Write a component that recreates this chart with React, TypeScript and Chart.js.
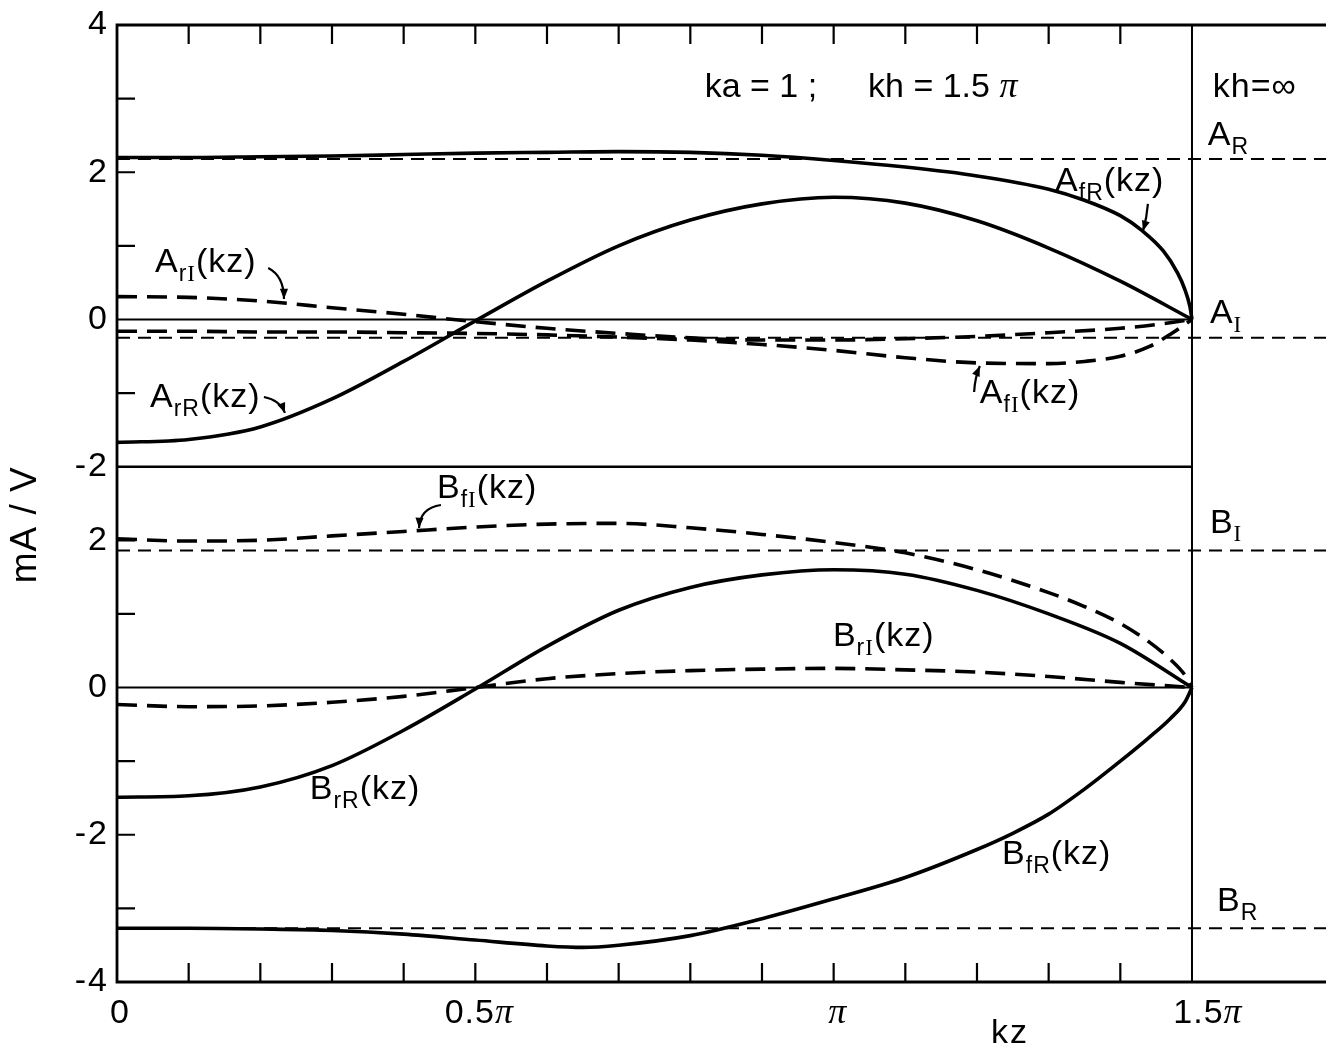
import React, { useEffect, useRef } from "react";
import { Chart, registerables } from "chart.js";

Chart.register(...registerables);

// kz is measured in units of π; the right strip (kz > 1.5π) shows the kh = ∞ limits.
const X_MAX = 1.687;
const X_NODE = 1.5;
// One vertical axis holds both panels: the lower (B) panel is shifted down by 5 units.
const Y_TOP = 4;
const Y_BOTTOM = -9;
const LOWER_SHIFT = -5;

// ---- upper panel: A coefficients (mA/V) ----
const aR = 2.18;
const aI = -0.25;

const afrKz = [0, 0.1, 0.2, 0.3, 0.4, 0.5, 0.6, 0.7, 0.8, 0.9, 1.0, 1.1, 1.2, 1.3, 1.35, 1.4, 1.43, 1.46, 1.48, 1.49, 1.497, 1.5];
const afrVal = [2.2, 2.2, 2.21, 2.22, 2.24, 2.26, 2.27, 2.28, 2.27, 2.23, 2.16, 2.07, 1.95, 1.77, 1.62, 1.41, 1.21, 0.93, 0.63, 0.41, 0.18, 0];

const arrKz = [0, 0.1, 0.2, 0.3, 0.4, 0.5, 0.6, 0.7, 0.8, 0.9, 1.0, 1.1, 1.2, 1.3, 1.4, 1.5];
const arrVal = [-1.67, -1.63, -1.46, -1.08, -0.57, -0.02, 0.52, 1.0, 1.35, 1.57, 1.66, 1.58, 1.34, 0.97, 0.52, 0];

const ariKz = [0, 0.1, 0.2, 0.3, 0.4, 0.5, 0.6, 0.7, 0.8, 0.9, 1.0, 1.1, 1.2, 1.3, 1.4, 1.45, 1.5];
const ariVal = [0.31, 0.3, 0.25, 0.16, 0.07, -0.03, -0.12, -0.19, -0.25, -0.28, -0.28, -0.26, -0.23, -0.18, -0.12, -0.07, 0];

const afiKz = [0, 0.1, 0.2, 0.3, 0.4, 0.5, 0.6, 0.7, 0.8, 0.9, 1.0, 1.1, 1.2, 1.3, 1.35, 1.4, 1.44, 1.47, 1.5];
const afiVal = [-0.16, -0.16, -0.17, -0.17, -0.18, -0.19, -0.21, -0.24, -0.28, -0.34, -0.42, -0.52, -0.59, -0.6, -0.57, -0.5, -0.37, -0.2, 0];

// ---- lower panel: B coefficients (mA/V) ----
const bI = 1.86;
const bR = -3.27;

const bfiKz = [0, 0.1, 0.2, 0.3, 0.4, 0.5, 0.6, 0.7, 0.8, 0.9, 1.0, 1.1, 1.2, 1.3, 1.35, 1.4, 1.44, 1.47, 1.49, 1.5];
const bfiVal = [2.02, 1.99, 2.0, 2.06, 2.12, 2.18, 2.22, 2.23, 2.17, 2.08, 1.97, 1.83, 1.6, 1.29, 1.1, 0.87, 0.62, 0.38, 0.17, 0];

const brrKz = [0, 0.1, 0.2, 0.3, 0.4, 0.5, 0.6, 0.7, 0.8, 0.9, 1.0, 1.1, 1.2, 1.3, 1.4, 1.5];
const brrVal = [-1.49, -1.47, -1.35, -1.06, -0.58, -0.02, 0.56, 1.05, 1.36, 1.53, 1.6, 1.54, 1.32, 1.0, 0.6, 0];

const briKz = [0, 0.1, 0.2, 0.3, 0.4, 0.5, 0.6, 0.7, 0.8, 0.9, 1.0, 1.1, 1.2, 1.3, 1.4, 1.5];
const briVal = [-0.23, -0.26, -0.25, -0.2, -0.12, 0.0, 0.12, 0.19, 0.23, 0.25, 0.26, 0.24, 0.21, 0.15, 0.07, 0];

const bfrKz = [0, 0.1, 0.2, 0.3, 0.4, 0.5, 0.6, 0.65, 0.7, 0.8, 0.9, 1.0, 1.1, 1.2, 1.25, 1.3, 1.35, 1.4, 1.44, 1.47, 1.49, 1.5];
const bfrVal = [-3.27, -3.27, -3.28, -3.3, -3.35, -3.43, -3.51, -3.53, -3.5, -3.37, -3.14, -2.87, -2.58, -2.2, -1.98, -1.72, -1.38, -1.0, -0.68, -0.42, -0.2, 0];

// ---- axis labelling ----
const xTickValues = [0, 0.5, 1, 1.5];
const xTickLabels = ["0", "0.5", "", "1.5"]; // each followed by π except the first
const upperTickLabels = [4, 2, 0, -2];
const lowerTickLabels = [2, 0, -2, -4];
const upperMinorTicks = [3, 2, 1, -1];
const lowerMinorTicks = [2, 1, -1, -2, -3];

const SANS = '"Liberation Sans", Arial, sans-serif';
const SERIF = '"Liberation Serif", "Times New Roman", serif';
const BASE = 34;
const SUB = 23;

type Pt = { x: number; y: number };
const pts = (xs: number[], ys: number[], shift = 0): Pt[] => xs.map((x, i) => ({ x, y: ys[i] + shift }));

type Seg = { t: string; size?: number; dy?: number; serif?: boolean; italic?: boolean };

const fontOf = (s: Seg) => `${s.italic ? "italic " : ""}${s.size ?? BASE}px ${s.serif ? SERIF : SANS}`;

function drawRich(ctx: CanvasRenderingContext2D, segs: Seg[], x: number, y: number, align: "left" | "center" | "right", spacing = 1) {
  (ctx as any).letterSpacing = `${spacing}px`;
  let total = 0;
  for (const s of segs) {
    ctx.font = fontOf(s);
    total += ctx.measureText(s.t).width;
  }
  let cx = align === "left" ? x : align === "center" ? x - total / 2 : x - total;
  ctx.textAlign = "left";
  ctx.textBaseline = "middle";
  for (const s of segs) {
    ctx.font = fontOf(s);
    ctx.fillText(s.t, cx, y + (s.dy ?? 0));
    cx += ctx.measureText(s.t).width;
  }
  (ctx as any).letterSpacing = "0px";
}

// Coefficient name with subscript, e.g. A_fR(kz)
function coef(letter: string, sub: string, arg: boolean): Seg[] {
  const segs: Seg[] = [{ t: letter }];
  for (const c of sub) segs.push({ t: c, size: SUB, dy: 12, serif: c === "I" });
  if (arg) segs.push({ t: "(kz)" });
  return segs;
}

const pi: Seg = { t: "π", italic: true, serif: true, size: 36 };

// label anchors in (kz/π, axis units); left-aligned, vertically centred
const textItems: { x: number; y: number; segs: Seg[]; sp?: number }[] = [
  { x: 0.82, y: 3.145, segs: [{ t: "ka = 1 ;" }], sp: 0 },
  { x: 1.048, y: 3.145, segs: [{ t: "kh = 1.5 " }, pi], sp: 0 },
  { x: 1.529, y: 3.145, segs: [{ t: "kh=∞" }] },
  { x: 1.522, y: 2.5, segs: coef("A", "R", false) },
  { x: 1.309, y: 1.87, segs: coef("A", "fR", true) },
  { x: 1.525, y: 0.08, segs: coef("A", "I", false) },
  { x: 0.053, y: 0.77, segs: coef("A", "rI", true) },
  { x: 0.046, y: -1.06, segs: coef("A", "rR", true) },
  { x: 1.204, y: -1.01, segs: coef("A", "fI", true) },
  { x: 0.4465, y: -2.3, segs: coef("B", "fI", true) },
  { x: 1.525, y: -2.77, segs: coef("B", "I", false) },
  { x: 0.999, y: -4.31, segs: coef("B", "rI", true) },
  { x: 0.269, y: -6.39, segs: coef("B", "rR", true) },
  { x: 1.235, y: -7.27, segs: coef("B", "fR", true) },
  { x: 1.535, y: -7.91, segs: coef("B", "R", false) },
];

// pointer arrows: start, control, end in (kz/π, axis units)
const arrows: number[][] = [
  [0.211, 0.7, 0.233, 0.591, 0.233, 0.279],
  [1.4385, 1.569, 1.437, 1.379, 1.4316, 1.202],
  [0.205, -1.053, 0.2274, -1.094, 0.2344, -1.27],
  [1.196, -0.985, 1.197, -0.795, 1.204, -0.632],
  [0.452, -2.52, 0.4228, -2.561, 0.4214, -2.833],
];

const framePlugin = {
  id: "frame",
  beforeDraw(chart: any) {
    const ctx = chart.ctx as CanvasRenderingContext2D;
    ctx.save();
    ctx.fillStyle = "#fff";
    ctx.fillRect(0, 0, chart.width, chart.height);
    ctx.restore();
  },
  beforeDatasetsDraw(chart: any) {
    const ctx = chart.ctx as CanvasRenderingContext2D;
    const xs = chart.scales.x;
    const ys = chart.scales.y;
    const x0 = xs.getPixelForValue(0);
    const xR = xs.getPixelForValue(X_MAX);
    const yT = ys.getPixelForValue(Y_TOP);
    const yB = ys.getPixelForValue(Y_BOTTOM);
    ctx.save();
    ctx.strokeStyle = "#000";
    ctx.lineCap = "butt";
    ctx.lineWidth = 2.8;
    ctx.beginPath();
    ctx.moveTo(xR, yT);
    ctx.lineTo(x0, yT);
    ctx.lineTo(x0, yB);
    ctx.lineTo(xR, yB);
    ctx.stroke();

    ctx.lineWidth = 2.2;
    ctx.beginPath();
    for (let k = 1; k < 15; k++) {
      const px = xs.getPixelForValue(k / 10);
      ctx.moveTo(px, yT);
      ctx.lineTo(px, yT + 19);
      ctx.moveTo(px, yB);
      ctx.lineTo(px, yB - 19);
    }
    for (const v of upperMinorTicks) {
      const py = ys.getPixelForValue(v);
      ctx.moveTo(x0, py);
      ctx.lineTo(x0 + 18, py);
    }
    for (const v of lowerMinorTicks) {
      const py = ys.getPixelForValue(v + LOWER_SHIFT);
      ctx.moveTo(x0, py);
      ctx.lineTo(x0 + 18, py);
    }
    ctx.stroke();
    ctx.restore();
  },
  afterDraw(chart: any) {
    const ctx = chart.ctx as CanvasRenderingContext2D;
    const xs = chart.scales.x;
    const ys = chart.scales.y;
    const x0 = xs.getPixelForValue(0);
    const yB = ys.getPixelForValue(Y_BOTTOM);
    ctx.save();
    ctx.fillStyle = "#000";
    ctx.strokeStyle = "#000";

    // vertical tick labels
    upperTickLabels.forEach((v) => drawRich(ctx, [{ t: String(v) }], x0 - 8, ys.getPixelForValue(v), "right", 2));
    lowerTickLabels.forEach((v) => drawRich(ctx, [{ t: String(v) }], x0 - 8, ys.getPixelForValue(v + LOWER_SHIFT), "right", 2));

    // horizontal tick labels
    xTickValues.forEach((v, i) => {
      const segs: Seg[] = i === 0 ? [{ t: xTickLabels[i] }] : [{ t: xTickLabels[i] }, pi];
      const dx = v === 1.5 ? 16 : v === 0 ? 3 : 4;
      drawRich(ctx, segs, xs.getPixelForValue(v) + dx, yB + 32, "center");
    });
    drawRich(ctx, [{ t: "kz" }], xs.getPixelForValue(1.246), yB + 52, "center", 2);

    // axis title
    ctx.save();
    ctx.translate(26, ys.getPixelForValue(-2.79));
    ctx.rotate(-Math.PI / 2);
    drawRich(ctx, [{ t: "mA / V", size: 37 }], 0, 0, "center", 1);
    ctx.restore();

    for (const item of textItems) {
      drawRich(ctx, item.segs, xs.getPixelForValue(item.x), ys.getPixelForValue(item.y), "left", item.sp ?? 1);
    }

    // pointer arrows
    ctx.lineWidth = 2.2;
    for (const a of arrows) {
      const sx = xs.getPixelForValue(a[0]);
      const sy = ys.getPixelForValue(a[1]);
      const cx = xs.getPixelForValue(a[2]);
      const cy = ys.getPixelForValue(a[3]);
      const ex = xs.getPixelForValue(a[4]);
      const ey = ys.getPixelForValue(a[5]);
      ctx.beginPath();
      ctx.moveTo(sx, sy);
      ctx.quadraticCurveTo(cx, cy, ex, ey);
      ctx.stroke();
      const ang = Math.atan2(ey - cy, ex - cx);
      const L = 11;
      const W = 0.38;
      ctx.beginPath();
      ctx.moveTo(ex, ey);
      ctx.lineTo(ex - L * Math.cos(ang - W), ey - L * Math.sin(ang - W));
      ctx.lineTo(ex - L * Math.cos(ang + W), ey - L * Math.sin(ang + W));
      ctx.closePath();
      ctx.fill();
    }
    ctx.restore();
  },
};

const curve = (data: Pt[], dashed: boolean) => ({
  data,
  borderColor: "#000",
  borderWidth: 3.6,
  borderDash: dashed ? [20, 10] : [],
  borderCapStyle: "butt",
  cubicInterpolationMode: "monotone",
  pointRadius: 0,
  fill: false,
  clip: false,
});

const rule = (data: Pt[], dashed: boolean, width = 2) => ({
  data,
  borderColor: "#000",
  borderWidth: width,
  borderDash: dashed ? [13, 8] : [],
  borderCapStyle: "butt",
  tension: 0,
  pointRadius: 0,
  fill: false,
  clip: false,
});

export default function App() {
  const canvasRef = useRef<HTMLCanvasElement | null>(null);

  useEffect(() => {
    const canvas = canvasRef.current;
    if (!canvas) return;
    const datasets: any[] = [
      // kh = ∞ limits
      rule([{ x: 0, y: aR }, { x: X_MAX, y: aR }], true),
      rule([{ x: 0, y: aI }, { x: X_MAX, y: aI }], true),
      rule([{ x: 0, y: bI + LOWER_SHIFT }, { x: X_MAX, y: bI + LOWER_SHIFT }], true),
      rule([{ x: 0, y: bR + LOWER_SHIFT }, { x: X_MAX, y: bR + LOWER_SHIFT }], true),
      // zero lines, panel divider and the kz = 1.5π boundary
      rule([{ x: 0, y: 0 }, { x: X_NODE, y: 0 }], false),
      rule([{ x: 0, y: LOWER_SHIFT }, { x: X_NODE, y: LOWER_SHIFT }], false),
      rule([{ x: 0, y: -2 }, { x: X_NODE, y: -2 }], false, 2.5),
      rule([{ x: X_NODE, y: Y_TOP }, { x: X_NODE, y: Y_BOTTOM }], false, 2),
      // A coefficients
      curve(pts(afrKz, afrVal), false),
      curve(pts(arrKz, arrVal), false),
      curve(pts(ariKz, ariVal), true),
      curve(pts(afiKz, afiVal), true),
      // B coefficients
      curve(pts(bfiKz, bfiVal, LOWER_SHIFT), true),
      curve(pts(brrKz, brrVal, LOWER_SHIFT), false),
      curve(pts(briKz, briVal, LOWER_SHIFT), true),
      curve(pts(bfrKz, bfrVal, LOWER_SHIFT), false),
    ];
    const chart = new Chart(canvas, {
      type: "line",
      data: { datasets },
      options: {
        responsive: false,
        animation: false,
        devicePixelRatio: 1,
        layout: { padding: { left: 117, right: 0, top: 25, bottom: 68 } },
        scales: {
          x: { type: "linear", min: 0, max: X_MAX, display: false },
          y: { type: "linear", min: Y_BOTTOM, max: Y_TOP, display: false },
        },
        plugins: { legend: { display: false }, tooltip: { enabled: false } },
        events: [],
      },
      plugins: [framePlugin],
    } as any);
    return () => chart.destroy();
  }, []);

  return (
    <div style={{ position: "absolute", left: 0, top: 0, width: 1326, height: 1050, background: "#fff" }}>
      <canvas ref={canvasRef} width={1326} height={1050} style={{ display: "block" }} />
    </div>
  );
}
